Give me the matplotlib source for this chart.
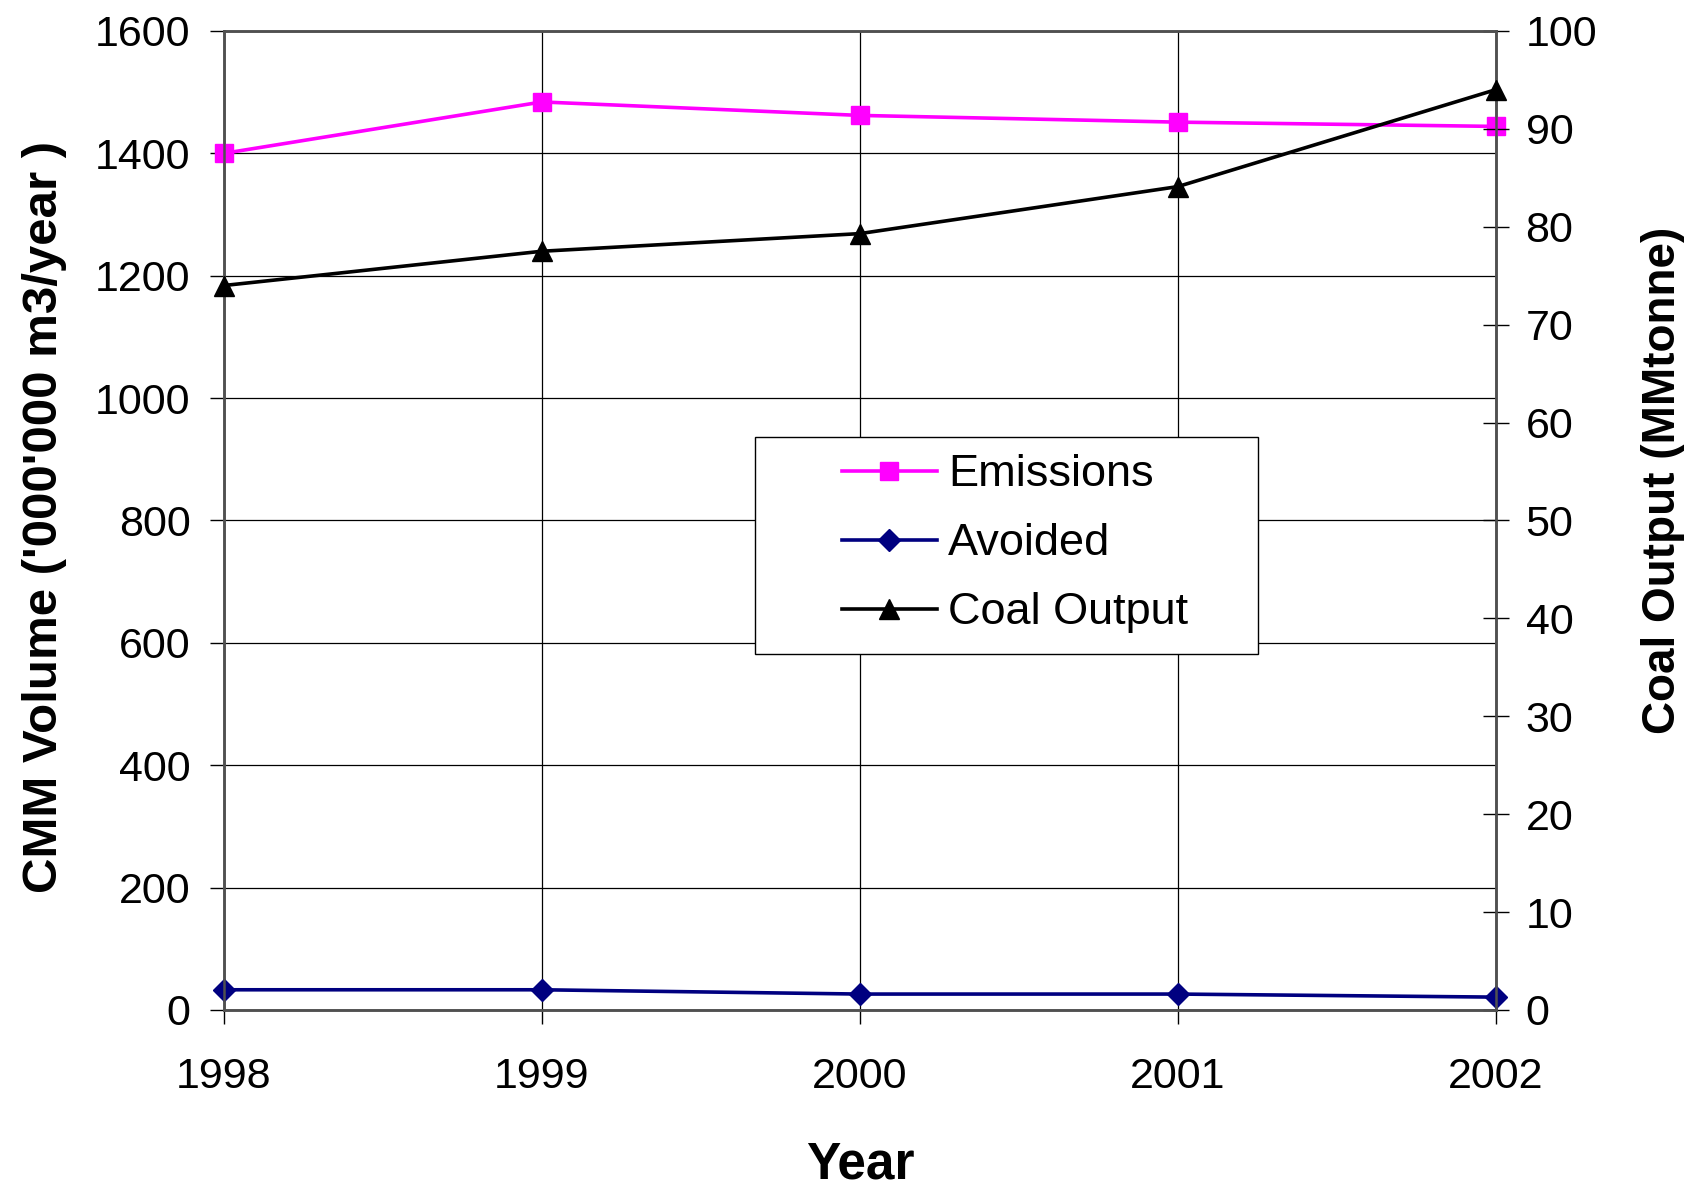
import matplotlib
matplotlib.use("Agg")
import matplotlib.pyplot as plt
from matplotlib.patches import Rectangle

plt.rcParams['font.family'] = ['Liberation Sans', 'DejaVu Sans']

years = [1998, 1999, 2000, 2001, 2002]
emissions = [1400, 1484, 1462, 1451, 1444]
avoided = [33, 33, 26, 26, 21]
coal_output = [74.0, 77.5, 79.3, 84.1, 94.0]

left_ticks = [0, 200, 400, 600, 800, 1000, 1200, 1400, 1600]
right_ticks = [0, 10, 20, 30, 40, 50, 60, 70, 80, 90, 100]

fig = plt.figure(figsize=(16.9, 11.91), dpi=100)
ax = fig.add_axes([0.1325, 0.152, 0.7525, 0.822])
ax2 = ax.twinx()

l1, = ax.plot(years, emissions, color='#FF00FF', lw=2.6, marker='s', ms=13,
              mec='#FF00FF', label='Emissions', clip_on=False, zorder=3)
l2, = ax.plot(years, avoided, color='#000080', lw=2.6, marker='D', ms=11.5,
              mec='#000080', label='Avoided', clip_on=False, zorder=3)
l3, = ax2.plot(years, coal_output, color='black', lw=2.6, marker='^', ms=15,
               label='Coal Output', clip_on=False, zorder=3)

ax.set_xlim(1998, 2002)
ax.set_ylim(0, 1600)
ax2.set_ylim(0, 100)
ax.set_xticks(years)
ax.set_yticks(left_ticks)
ax2.set_yticks(right_ticks)

ax.grid(True, color='black', lw=0.9)
for a in (ax, ax2):
    for s in a.spines.values():
        s.set_color('#505050')
        s.set_linewidth(1.8)

ax.tick_params(axis='y', labelsize=31, direction='out', length=10, width=1, pad=14)
ax.tick_params(axis='x', labelsize=31, direction='out', length=10, width=1, pad=24)
ax2.tick_params(axis='y', labelsize=31, direction='inout', length=19, width=1, pad=12)

fig.text(0.0266, 0.566, "CMM Volume ('000'000 m3/year )", rotation=90,
         ha='center', va='center', fontsize=35.5, fontweight='bold')
fig.text(0.984, 0.597, "Coal Output (MMtonne)", rotation=90,
         ha='center', va='center', fontsize=33, fontweight='bold')
fig.text(0.509, 0.022, "Year", ha='center', va='center',
         fontsize=37, fontweight='bold')

# legend box
ax2.add_patch(Rectangle((0.4175, 0.3636), 0.3955, 0.2214, transform=ax2.transAxes,
                        facecolor='white', edgecolor='black', lw=1, zorder=9))
leg = ax2.legend(handles=[l1, l2, l3], loc='center left',
                 bbox_to_anchor=(0.486, 0.476), frameon=False, fontsize=32.5,
                 borderpad=0, borderaxespad=0, handlelength=2.1,
                 handletextpad=0.25, labelspacing=0.62)
leg.set_zorder(10)

fig.savefig('out.png', dpi=100)
